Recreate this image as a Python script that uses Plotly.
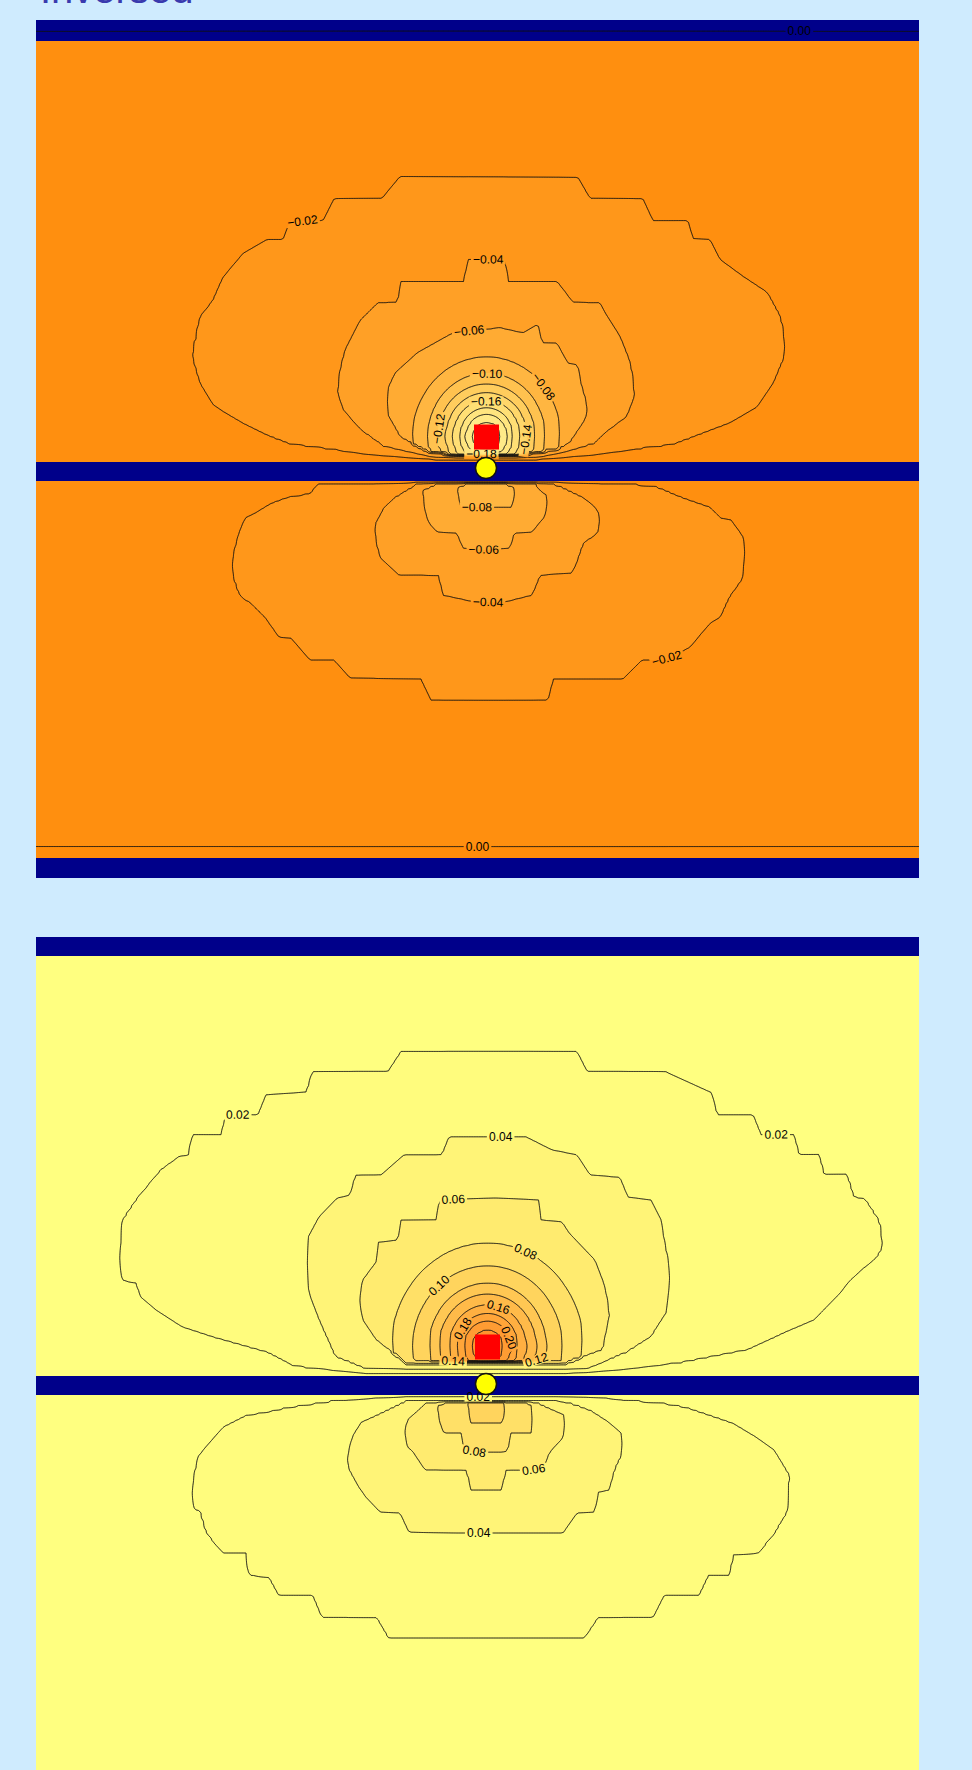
import numpy as np
import plotly.graph_objects as go

# ---------------------------------------------------------------------------
# Field description.  Units: 1 unit = 10 screen px, x = 0 at the contact point,
# heights measured away from the interface band (band centre = 0).
# Each closed contour is given by its far side ("far") and its interface side
# ("near") as (x, height) points; both lists share their end points.
# ---------------------------------------------------------------------------
LEVEL_STEP = 0.02
BAND_HALF = 0.95

TOP_UPPER_LOOPS = [
    (-0.02,
     [(-29.3, 11.6), (-28.6, 15.4), (-27.3, 17.1), (-26.3, 19.4), (-24.3, 21.8), (-21.9, 23.2),
      (-20.3, 23.2), (-19.6, 25.1), (-16.3, 25.1), (-15.2, 27.3), (-10.4, 27.3), (-8.6, 29.5),
      (9.2, 29.4), (10.4, 27.3), (15.7, 27.3), (16.7, 25.1), (20.2, 25.1), (20.7, 23.3),
      (22.4, 23.2), (23.4, 21.2), (25.7, 19.5), (28.1, 17.9), (29.4, 15.5), (29.9, 12.6), (30.0, 12.1)],
     [(-29.3, 11.6), (-28.6, 8.9), (-27.3, 6.7), (-26.3, 6.0), (-24.3, 4.8), (-21.9, 3.6),
      (-19.6, 2.7), (-11.9, 1.7), (-5.0, 1.2), (5.0, 1.2), (10.7, 1.65), (18.7, 2.65),
      (24.4, 4.85), (27.1, 6.45), (28.7, 8.85), (30.0, 12.1)]),
    (-0.04,
     [(-14.8, 7.9), (-14.6, 9.9), (-14.1, 12.1), (-12.6, 15.1), (-10.8, 16.9), (-8.8, 16.9),
      (-8.6, 19.0), (-2.1, 19.0), (-1.9, 21.2), (1.9, 21.2), (2.2, 19.0), (7.1, 19.0),
      (8.7, 16.9), (11.4, 16.9), (11.9, 15.9), (13.4, 13.5), (14.4, 10.9), (14.7, 8.9), (14.8, 7.5)],
     [(-14.8, 7.9), (-14.3, 6.2), (-12.6, 4.2), (-10.3, 2.5), (-5.0, 1.35), (5.0, 1.35),
      (7.7, 1.9), (10.7, 2.7), (12.4, 4.2), (14.1, 5.5), (14.8, 7.5)]),
    (-0.06,
     [(-10.0, 6.6), (-9.9, 8.0), (-9.1, 9.85), (-6.9, 11.85), (-3.3, 13.85), (1.4, 14.35),
      (3.7, 13.85), (5.2, 14.75), (5.6, 12.85), (7.1, 12.85), (8.2, 10.85), (9.2, 10.65),
      (9.4, 9.15), (10.1, 6.45), (10.2, 6.0)],
     [(-10.0, 6.6), (-9.9, 5.85), (-8.6, 3.45), (-6.0, 2.0), (-3.0, 1.5), (3.0, 1.5),
      (7.1, 2.15), (8.4, 2.85), (9.7, 4.85), (10.2, 6.0)]),
]
TOP_RING_LEVELS = [-0.08, -0.10, -0.12, -0.14, -0.16, -0.18, -0.20, -0.22]
TOP_RING_RADII = [7.4, 5.9, 4.9, 4.1, 3.4, 2.7, 2.1, 1.4]

TOP_LOWER_LOOPS = [
    (-0.02,
     [(-25.5, 9.5), (-24.7, 12.15), (-24.3, 12.65), (-23.5, 13.15), (-22.1, 14.55), (-20.7, 16.55),
      (-19.5, 16.65), (-17.6, 18.85), (-15.2, 18.85), (-13.6, 20.65), (-6.5, 20.75), (-5.5, 22.85),
      (6.2, 22.85), (6.7, 20.75), (13.7, 20.75), (15.6, 18.85), (18.0, 18.85), (20.4, 17.55),
      (22.4, 15.15), (23.4, 14.55), (24.3, 12.55), (25.5, 10.85), (25.9, 8.55), (26.0, 7.9)],
     [(-25.5, 9.5), (-24.7, 6.15), (-24.1, 4.65), (-23.1, 4.15), (-21.5, 3.15), (-19.9, 2.55),
      (-17.6, 2.15), (-16.8, 1.15), (12.5, 1.1), (16.8, 1.35), (19.6, 2.55), (22.4, 3.55),
      (23.5, 4.65), (24.5, 4.85), (25.7, 6.55), (26.0, 7.9)]),
    (-0.04,
     [(-11.2, 5.55), (-10.8, 7.55), (-10.6, 8.55), (-8.7, 10.35), (-4.7, 10.35), (-4.3, 12.35),
      (-1.0, 13.05), (1.8, 13.05), (4.6, 12.35), (5.4, 10.35), (8.5, 10.15), (8.9, 9.55),
      (9.7, 7.15), (11.1, 6.15), (11.5, 4.65)],
     [(-11.2, 5.55), (-10.2, 3.55), (-9.1, 2.55), (-6.9, 1.15), (6.6, 1.15), (7.3, 1.35),
      (9.7, 2.55), (10.9, 3.55), (11.5, 4.65)]),
    (-0.06,
     [(-6.3, 1.9), (-6.1, 3.85), (-5.7, 5.15), (-4.9, 6.05), (-2.9, 6.15), (-2.3, 7.65),
      (-0.2, 7.85), (2.4, 7.65), (2.8, 6.15), (4.6, 6.05), (5.8, 4.55), (6.2, 3.15), (6.25, 2.5)],
     [(-6.3, 1.9), (-5.0, 1.2), (5.0, 1.2), (5.4, 1.85), (6.25, 2.5)]),
    (-0.08,
     [(-2.9, 1.6), (-2.5, 3.55), (2.6, 3.55), (2.8, 2.55), (2.9, 1.6)],
     [(-2.9, 1.6), (-2.0, 1.25), (2.0, 1.25), (2.9, 1.6)]),
]

BOT_UPPER_LOOPS = [
    (0.02,
     [(-36.7, 12.0), (-36.3, 16.55), (-34.8, 18.75), (-32.5, 21.55), (-30.7, 22.85), (-29.7, 23.05),
      (-29.4, 25.05), (-26.4, 25.05), (-26.1, 27.05), (-22.8, 27.05), (-22.0, 29.05), (-17.9, 29.35),
      (-17.4, 31.35), (-9.8, 31.35), (-8.5, 33.35), (9.1, 33.35), (10.1, 31.35), (18.0, 31.35),
      (22.6, 29.25), (23.1, 27.05), (26.7, 27.05), (27.5, 25.05), (30.8, 25.05), (31.3, 23.05),
      (33.3, 23.05), (33.8, 21.05), (36.1, 21.05), (36.7, 18.85), (37.9, 18.55), (39.2, 16.55),
      (39.5, 14.85), (39.6, 13.8)],
     [(-36.7, 12.0), (-36.3, 10.55), (-35.0, 10.25), (-34.5, 8.85), (-33.0, 7.55), (-30.4, 5.85),
      (-27.4, 4.85), (-21.8, 3.25), (-19.2, 1.85), (-12.0, 1.2), (8.0, 1.2), (13.4, 1.55),
      (19.6, 2.25), (26.2, 3.55), (29.8, 5.25), (32.8, 6.55), (35.4, 9.25), (36.4, 10.55),
      (39.0, 12.85), (39.6, 13.8)]),
    (0.04,
     [(-18.0, 11.8), (-17.9, 14.55), (-16.7, 16.85), (-14.9, 18.75), (-13.6, 19.05), (-13.1, 21.05),
      (-10.5, 21.05), (-8.2, 23.05), (-4.4, 23.05), (-3.7, 24.85), (4.0, 24.85), (6.6, 23.55),
      (9.1, 23.05), (10.4, 21.05), (13.4, 20.85), (14.2, 18.85), (16.5, 18.55), (17.5, 16.55),
      (17.8, 14.55), (18.3, 11.85), (18.4, 10.5)],
     [(-18.0, 11.8), (-17.7, 9.25), (-16.7, 6.55), (-15.1, 2.85), (-12.0, 1.6), (10.0, 1.6),
      (14.0, 3.25), (16.5, 4.85), (18.0, 7.25), (18.4, 10.5)]),
    (0.06,
     [(-12.7, 8.5), (-12.3, 10.55), (-10.85, 12.55), (-10.75, 14.35), (-8.8, 14.55), (-8.55, 16.55),
      (-4.9, 16.55), (-4.7, 18.55), (0.9, 18.75), (5.3, 18.55), (5.5, 16.55), (7.6, 16.35),
      (8.3, 15.25), (10.9, 12.55), (11.9, 9.85), (12.3, 7.0)],
     [(-12.7, 8.5), (-12.3, 6.55), (-11.0, 4.55), (-8.0, 2.2), (8.0, 2.2), (11.7, 3.55), (12.3, 7.0)]),
]
BOT_RING_LEVELS = [0.08, 0.10, 0.12, 0.14, 0.16, 0.18, 0.20, 0.22]
BOT_RING_RADII = [9.6, 7.5, 5.9, 4.9, 3.9, 3.1, 2.4, 1.6]

BOT_LOWER_LOOPS = [
    (0.02,
     [(-29.5, 11.0), (-29.2, 12.15), (-28.5, 12.65), (-27.9, 14.75), (-26.3, 16.75), (-24.0, 16.75),
      (-23.7, 18.95), (-21.7, 19.15), (-20.7, 20.95), (-17.3, 20.95), (-16.4, 23.15), (-10.9, 23.15),
      (-9.7, 25.25), (9.8, 25.25), (11.2, 23.15), (16.7, 23.15), (17.8, 20.95), (21.3, 20.95),
      (22.2, 18.95), (24.3, 18.95), (24.7, 16.85), (27.2, 16.75), (28.8, 14.75), (30.0, 12.65),
      (30.2, 10.45), (30.3, 9.0)],
     [(-29.5, 11.0), (-28.8, 7.15), (-28.1, 6.25), (-26.3, 4.15), (-24.0, 2.95), (-22.1, 2.65),
      (-19.8, 2.15), (-15.2, 1.45), (-8.0, 1.1), (10.0, 1.1), (17.4, 1.65), (20.1, 2.15),
      (24.7, 3.75), (27.0, 5.15), (28.8, 6.45), (30.3, 9.0)]),
    (0.04,
     [(-13.9, 7.5), (-13.6, 8.45), (-12.7, 10.15), (-12.0, 11.15), (-10.6, 12.65), (-8.6, 12.75),
      (-7.7, 14.65), (-3.1, 14.75), (7.7, 14.75), (9.1, 12.75), (10.9, 12.65), (11.2, 10.65),
      (12.3, 10.45), (12.8, 8.45), (13.7, 6.45), (13.75, 5.5)],
     [(-13.9, 7.5), (-13.4, 5.15), (-12.5, 3.65), (-10.6, 2.75), (-8.0, 1.5), (7.0, 1.5),
      (8.6, 1.75), (10.5, 2.45), (12.3, 3.65), (13.5, 4.75), (13.75, 5.5)]),
    (0.06,
     [(-8.1, 4.5), (-7.9, 6.15), (-7.4, 6.45), (-6.1, 8.45), (-1.9, 8.45), (-1.5, 10.45),
      (1.5, 10.45), (2.0, 8.45), (5.7, 8.45), (6.3, 6.75), (7.7, 5.15), (7.9, 3.75), (7.95, 3.0)],
     [(-8.1, 4.5), (-7.9, 3.45), (-6.1, 1.75), (-3.0, 1.35), (3.0, 1.35), (4.7, 1.45),
      (6.8, 2.45), (7.95, 3.0)]),
    (0.08,
     [(-4.8, 2.0), (-4.7, 3.45), (-4.2, 4.75), (-2.45, 4.75), (-2.35, 6.15), (-1.9, 6.65),
      (2.2, 6.65), (2.4, 4.75), (4.5, 4.75), (4.7, 3.15), (4.75, 2.0)],
     [(-4.8, 2.0), (-3.0, 1.25), (3.0, 1.25), (4.75, 2.0)]),
    (0.10,
     [(-1.8, 1.6), (-1.6, 3.75), (1.7, 3.75), (1.9, 1.6)],
     [(-1.8, 1.6), (0.0, 1.2), (1.9, 1.6)]),
]

# markers: source (red square) and contact probe (yellow circle)
TOP_SOURCE = (0.05, 3.45)
TOP_PROBE = (0.0, 0.35)
BOT_SOURCE = (0.15, 3.85)
BOT_PROBE = (0.0, 0.15)

# zero-level lines near the outer conductors (upper, lower) of the top panel
TOP_ZERO_HEIGHTS = (44.15, 37.55)

# navy conductor bands (y ranges)
TOP_BANDS = [(-40.65, -38.65), (-0.95, 0.95), (43.05, 45.15)]
BOT_BANDS = [(-0.95, 0.95), (42.95, 44.85)]

X_RANGE = [-45.0, 43.3]
TOP_Y_RANGE = [-40.65, 45.15]
BOT_Y_RANGE = [-38.45, 44.85]

TOP_SHADES = [(0.01, "#ff8c0a"), (-0.01, "#ff8c0a"), (-0.03, "#ff9214"), (-0.05, "#ff9b20"),
              (-0.07, "#ffa52c"), (-0.09, "#ffb03a"), (-0.11, "#ffbc48"), (-0.13, "#ffc756"),
              (-0.15, "#ffd264"), (-0.17, "#ffdb70"), (-0.19, "#ffe27a"), (-0.21, "#ffe884"),
              (-0.23, "#ffec8c"), (-0.31, "#fff096")]
BOT_SHADES = [(0.01, "#ffff80"), (0.03, "#fff87a"), (0.05, "#fff073"), (0.07, "#ffe66b"),
              (0.09, "#ffda62"), (0.11, "#ffcd58"), (0.13, "#ffc04e"), (0.15, "#ffb445"),
              (0.17, "#ffa93d"), (0.19, "#ffa036"), (0.21, "#ff9830"), (0.23, "#ff922b"),
              (0.31, "#ff8a25")]

NAVY = "#00008a"
PAGE_BG = "#cfebfe"
LINE_COLOR = "#111111"
TITLE_TEXT = "Inversed"


# ---------------------------------------------------------------------------
def ring_loops(levels, radii, center, stretch=1.08):
    cx, cy = center
    t = np.linspace(0.0, np.pi, 61)
    loops = []
    for level, r in zip(levels, radii):
        xs = cx - r * np.cos(t)
        far = list(zip(xs, cy + stretch * r * np.sin(t)))
        near = list(zip(xs, np.maximum(cy - r * np.sin(t), BAND_HALF + 0.1)))
        loops.append((level, far, near))
    return loops


def half_field(xs, hs, loops, sign, zero_h):
    """Column-wise profile of the field on one side of the interface."""
    half = sign * LEVEL_STEP / 2
    top = zero_h if zero_h is not None else hs.max() + 1.0
    loops = sorted(loops, key=lambda lp: abs(lp[0]))
    tables = []
    for level, far, near in loops:
        fx, fh = np.array(far).T
        nx, nh = np.array(near).T
        tables.append((level, max(fx[0], nx[0]), min(fx[-1], nx[-1]),
                       np.interp(xs, fx, fh), np.interp(xs, nx, nh)))
    Z = np.empty((len(hs), len(xs)))
    for j, x in enumerate(xs):
        lo, hi = BAND_HALF, top
        inner = []
        for level, x0, x1, fh, nh in tables:
            if not (x0 < x < x1):
                continue
            l = max(nh[j], lo + 0.04)
            h = min(fh[j], hi - 0.04)
            if h - l < 0.08:
                continue
            inner.append((level, l, h))
            lo, hi = l, h
        hp, vp = [BAND_HALF], [half]
        for level, l, h in inner:
            hp.append(l)
            vp.append(level)
        if inner:
            level, l, h = inner[-1]
            hp.append(0.5 * (l + h))
            vp.append(level + half)
        for level, l, h in reversed(inner):
            hp.append(h)
            vp.append(level)
        if zero_h is not None:
            hp += [zero_h, zero_h + 1.0]
            vp += [0.0, -half]
        else:
            hp.append(top)
            vp.append(half)
        Z[:, j] = np.interp(hs, hp, vp)
    return Z


def panel_field(xs, ys, upper, lower, sign, zeros):
    hs = np.abs(ys)
    up = half_field(xs, hs, upper, sign, zeros[0])
    low = half_field(xs, hs, lower, sign, zeros[1])
    return np.where((ys >= 0)[:, None], up, low)


def fill_scale(shades, start, end, size):
    nc = int(np.floor((end - start) / size + 1e-6)) + 1
    lo, span = start - size, nc * size
    stops = sorted((float(np.clip((z - lo) / span, 0, 1)), c) for z, c in shades)
    out = [[0.0, stops[0][1]]]
    for f, c in stops:
        if 0 < f < 1:
            out.append([f, c])
    out.append([1.0, stops[-1][1]])
    return out


def band_grid(bands, lo, hi):
    """Sample rows of a 0/1 indicator whose 0.5 crossings sit on the band edges."""
    eps = 1e-3
    rows = [(lo - 1.0, 0.0), (hi + 1.0, 0.0)]
    for a, b in bands:
        if a > lo:
            rows += [(a - eps, 0.0), (a + eps, 1.0)]
        if b < hi:
            rows += [(b - eps, 1.0), (b + eps, 0.0)]
    rows.sort()
    ys = [y for y, _ in rows]
    zs = []
    for y, _ in rows:
        inside = any((a - 1.5 * eps <= y <= b + 1.5 * eps) if (a > lo and b < hi) else
                     ((y <= b) if a <= lo else (y >= a)) for a, b in bands)
        zs.append(1.0 if inside else 0.0)
    for i, (y, v) in enumerate(rows):
        if v == 1.0:
            zs[i] = 1.0
        elif 0 < i < len(rows) - 1:
            zs[i] = 0.0 if not any(a <= y <= b for a, b in bands) else zs[i]
    return ys, zs


xs = np.arange(-46.0, 44.5, 0.25)
ys_top = np.arange(-41.5, 46.0, 0.25)
ys_bot = np.arange(-39.5, 45.75, 0.25)

top_upper = TOP_UPPER_LOOPS + ring_loops(TOP_RING_LEVELS, TOP_RING_RADII, TOP_SOURCE)
bot_upper = BOT_UPPER_LOOPS + ring_loops(BOT_RING_LEVELS, BOT_RING_RADII, BOT_SOURCE)

z_top = panel_field(xs, ys_top, top_upper, TOP_LOWER_LOOPS, -1, TOP_ZERO_HEIGHTS)
z_bot = panel_field(xs, ys_bot, bot_upper, BOT_LOWER_LOOPS, +1, (None, None))

TOP_LEVELS = dict(start=-0.30, end=-0.02, size=LEVEL_STEP)
BOT_LEVELS = dict(start=0.02, end=0.30, size=LEVEL_STEP)
label_font = dict(family="Liberation Sans, Arial, sans-serif", size=12, color="#000000")

fig = go.Figure()


def add_panel(z, ys, levels, shades, bands, yrange, xa, ya, extra_lines=None):
    fig.add_trace(go.Contour(
        x=xs, y=ys, z=z, xaxis=xa, yaxis=ya,
        contours=dict(start=levels["start"] - LEVEL_STEP, end=levels["end"] + LEVEL_STEP,
                      size=LEVEL_STEP, coloring="fill", showlines=False),
        colorscale=fill_scale(shades, levels["start"] - LEVEL_STEP,
                              levels["end"] + LEVEL_STEP, LEVEL_STEP),
        line=dict(width=0, smoothing=0), showscale=False, hoverinfo="skip"))
    by, bz = band_grid(bands, yrange[0], yrange[1])
    fig.add_trace(go.Contour(
        x=[xs[0], xs[-1]], y=by, z=[[v, v] for v in bz], xaxis=xa, yaxis=ya,
        contours=dict(start=0.5, end=0.5, size=1, coloring="fill", showlines=False),
        colorscale=[[0, "rgba(0,0,0,0)"], [0.75, "rgba(0,0,0,0)"], [1, NAVY]],
        line=dict(width=0, smoothing=0), showscale=False, hoverinfo="skip"))
    fig.add_trace(go.Contour(
        x=xs, y=ys, z=z, xaxis=xa, yaxis=ya,
        contours=dict(start=levels["start"], end=levels["end"], size=LEVEL_STEP,
                      coloring="none", showlabels=True, labelfont=label_font,
                      labelformat=".2f"),
        line=dict(color=LINE_COLOR, width=1, smoothing=0), showscale=False, hoverinfo="skip"))
    if extra_lines is not None:
        fig.add_trace(go.Contour(
            x=xs, y=ys, z=z, xaxis=xa, yaxis=ya,
            contours=dict(start=extra_lines, end=extra_lines, size=1,
                          coloring="none", showlabels=True, labelfont=label_font,
                          labelformat=".2f"),
            line=dict(color=LINE_COLOR, width=1, smoothing=0), showscale=False, hoverinfo="skip"))


add_panel(z_top, ys_top, TOP_LEVELS, TOP_SHADES, TOP_BANDS, TOP_Y_RANGE, "x", "y", extra_lines=0.0)
add_panel(z_bot, ys_bot, BOT_LEVELS, BOT_SHADES, BOT_BANDS, BOT_Y_RANGE, "x2", "y2")

for src, probe, xa, ya in [(TOP_SOURCE, TOP_PROBE, "x", "y"), (BOT_SOURCE, BOT_PROBE, "x2", "y2")]:
    fig.add_trace(go.Scatter(x=[src[0]], y=[src[1]], xaxis=xa, yaxis=ya, mode="markers",
                             marker=dict(symbol="square", size=25, color="#ff0000", line=dict(width=0)),
                             hoverinfo="skip", showlegend=False))
    fig.add_trace(go.Scatter(x=[probe[0]], y=[probe[1]], xaxis=xa, yaxis=ya, mode="markers",
                             marker=dict(symbol="circle", size=21, color="#ffff00",
                                         line=dict(color="#111111", width=1.5)),
                             hoverinfo="skip", showlegend=False))

W, H = 972, 1770
x_dom = [36 / W, 919 / W]
axis_off = dict(visible=False, showgrid=False, zeroline=False, fixedrange=True)
fig.update_layout(
    width=W, height=H, margin=dict(l=0, r=0, t=0, b=0),
    paper_bgcolor=PAGE_BG, plot_bgcolor=PAGE_BG, showlegend=False,
    xaxis=dict(domain=x_dom, range=X_RANGE, anchor="y", **axis_off),
    yaxis=dict(domain=[1 - 878 / H, 1 - 20 / H], range=TOP_Y_RANGE, anchor="x", **axis_off),
    xaxis2=dict(domain=x_dom, range=X_RANGE, anchor="y2", **axis_off),
    yaxis2=dict(domain=[0, 1 - 937 / H], range=BOT_Y_RANGE, anchor="x2", **axis_off),
    annotations=[dict(text=TITLE_TEXT, xref="paper", yref="paper", x=38 / W, y=1 - 12.5 / H,
                      xanchor="left", yanchor="bottom", showarrow=False,
                      font=dict(family="Liberation Sans, Arial, sans-serif", size=40, color="#3a3aae"))],
)

fig.write_html("out.html")
